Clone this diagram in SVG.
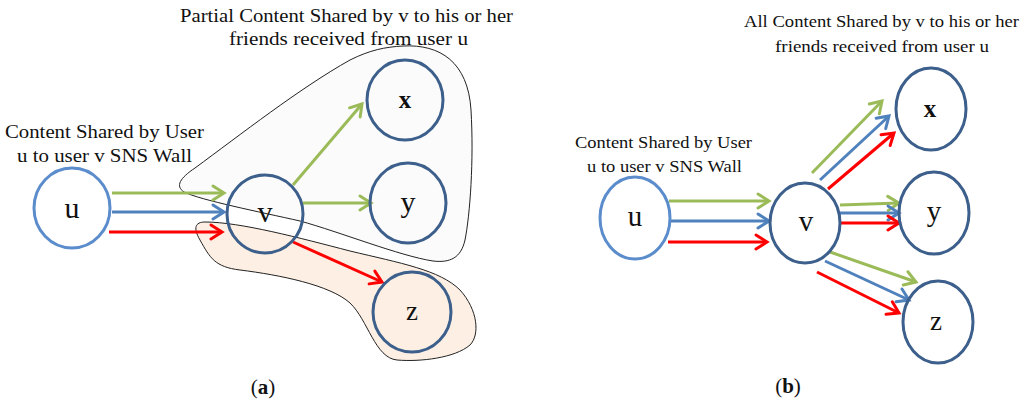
<svg xmlns="http://www.w3.org/2000/svg" width="1024" height="405" viewBox="0 0 1024 405">
<style>
.lbl{font-family:"Liberation Serif","Times New Roman",serif;fill:#111}
.node{fill:none;stroke:#3c5f8c;stroke-width:3}
.nodeu{fill:none;stroke:#5b8ccc;stroke-width:3}
.nt{font-family:"Liberation Serif","Times New Roman",serif;fill:#111;text-anchor:middle}
.g{stroke:#9bbb59;stroke-width:3;fill:none}
.b{stroke:#4f81bd;stroke-width:3;fill:none}
.r{stroke:#ff0000;stroke-width:3;fill:none}
.blob{stroke:#222;stroke-width:1}
</style>
<defs>
<marker id="ag" markerUnits="userSpaceOnUse" markerWidth="18" markerHeight="18" viewBox="-14 -9 18 18" refX="0" refY="0" orient="auto"><path d="M-11,-7 L0,0 L-11,7" fill="none" stroke="#9bbb59" stroke-width="3" stroke-linecap="round" stroke-linejoin="miter"/></marker>
<marker id="ab" markerUnits="userSpaceOnUse" markerWidth="18" markerHeight="18" viewBox="-14 -9 18 18" refX="0" refY="0" orient="auto"><path d="M-11,-7 L0,0 L-11,7" fill="none" stroke="#4f81bd" stroke-width="3" stroke-linecap="round" stroke-linejoin="miter"/></marker>
<marker id="ar" markerUnits="userSpaceOnUse" markerWidth="18" markerHeight="18" viewBox="-14 -9 18 18" refX="0" refY="0" orient="auto"><path d="M-11,-7 L0,0 L-11,7" fill="none" stroke="#ff0000" stroke-width="3" stroke-linecap="round" stroke-linejoin="miter"/></marker>
</defs>
<rect width="1024" height="405" fill="#ffffff"/>

<!-- Panel (a) groups -->
<g id="group-partial">
<path class="blob" fill="#fbfbfb" d="M403,46 C440,44 468,62 471,110 C474,160 470,215 465,240 C461,258 450,263 433,261 C400,256 340,232 300,221 C260,212 200,200 184,192 C175,186 180,178 195,168 C240,135 300,88 350,60 C370,50 385,47 403,46 Z"/>
</g>
<g id="group-z">
<path class="blob" fill="#fdefe3" d="M205,222 C240,222 300,238 350,251 C400,263 440,270 460,290 C478,310 480,335 470,345 C455,358 420,362 397,360 C375,358 368,320 350,303 C330,285 280,275 240,270 C215,267 210,258 200,240 C193,228 195,222 205,222 Z"/>
</g>

<text class="lbl" font-size="18" x="180" y="22" textLength="333" lengthAdjust="spacingAndGlyphs">Partial Content Shared by v to his or her</text>
<text class="lbl" font-size="18" x="229" y="45" textLength="239" lengthAdjust="spacingAndGlyphs">friends received from user u</text>
<text class="lbl" font-size="18" x="5" y="138" textLength="199" lengthAdjust="spacingAndGlyphs">Content Shared by User</text>
<text class="lbl" font-size="18" x="17" y="162" textLength="175" lengthAdjust="spacingAndGlyphs">u to user v SNS Wall</text>

<g id="connectors-a">
<line class="g" x1="112" y1="193" x2="224" y2="193" marker-end="url(#ag)"/>
<line class="b" x1="112" y1="212" x2="224" y2="212" marker-end="url(#ab)"/>
<line class="r" x1="109" y1="232" x2="222" y2="232" marker-end="url(#ar)"/>
<line class="g" x1="293" y1="185" x2="362" y2="104" marker-end="url(#ag)"/>
<line class="g" x1="303" y1="203" x2="371" y2="203" marker-end="url(#ag)"/>
<line class="r" x1="293" y1="242" x2="382" y2="282" marker-end="url(#ar)"/>
</g>

<g id="a-u"><ellipse class="nodeu" cx="72" cy="208" rx="38" ry="40"/><text class="nt" font-size="30" x="72" y="218">u</text></g>
<g id="a-v"><ellipse class="node" cx="265" cy="214" rx="38" ry="39"/><text class="nt" font-size="30" x="265" y="222">v</text></g>
<g id="a-x"><ellipse class="node" cx="405" cy="100" rx="38" ry="40"/><text class="nt" font-size="25" font-weight="bold" x="405" y="108">x</text></g>
<g id="a-y"><ellipse class="node" cx="408" cy="203" rx="38" ry="40"/><text class="nt" font-size="30" x="408" y="212">y</text></g>
<g id="a-z"><ellipse class="node" cx="412" cy="312" rx="39" ry="40"/><text class="nt" font-size="27" x="412" y="320">z</text></g>

<text class="nt" font-size="21" x="263" y="394">(<tspan font-weight="bold">a</tspan>)</text>

<!-- Panel (b) -->
<text class="lbl" font-size="17" x="744" y="27" textLength="275" lengthAdjust="spacingAndGlyphs">All Content Shared by v to his or her</text>
<text class="lbl" font-size="17" x="775" y="52" textLength="214" lengthAdjust="spacingAndGlyphs">friends received from user u</text>
<text class="lbl" font-size="17" x="575" y="148" textLength="177" lengthAdjust="spacingAndGlyphs">Content Shared by User</text>
<text class="lbl" font-size="17" x="587" y="172" textLength="155" lengthAdjust="spacingAndGlyphs">u to user v SNS Wall</text>

<g id="connectors-b">
<line class="g" x1="669" y1="201" x2="769" y2="201" marker-end="url(#ag)"/>
<line class="b" x1="669" y1="221" x2="769" y2="221" marker-end="url(#ab)"/>
<line class="r" x1="668" y1="242" x2="767" y2="242" marker-end="url(#ar)"/>
<line class="g" x1="812" y1="173" x2="882" y2="101" marker-end="url(#ag)"/>
<line class="b" x1="820" y1="180" x2="889" y2="116" marker-end="url(#ab)"/>
<line class="r" x1="828" y1="189" x2="894" y2="133" marker-end="url(#ar)"/>
<line class="g" x1="840" y1="205" x2="899" y2="203" marker-end="url(#ag)"/>
<line class="b" x1="840" y1="213" x2="899" y2="213" marker-end="url(#ab)"/>
<line class="r" x1="840" y1="223" x2="899" y2="223" marker-end="url(#ar)"/>
<line class="g" x1="830" y1="252" x2="916" y2="282" marker-end="url(#ag)"/>
<line class="b" x1="825" y1="261" x2="909" y2="300" marker-end="url(#ab)"/>
<line class="r" x1="817" y1="272" x2="899" y2="313" marker-end="url(#ar)"/>
</g>

<g id="b-u"><ellipse class="nodeu" cx="635" cy="218" rx="35" ry="41"/><text class="nt" font-size="29" x="635" y="226">u</text></g>
<g id="b-v"><ellipse class="node" cx="805" cy="223" rx="35" ry="40"/><text class="nt" font-size="29" x="806" y="231">v</text></g>
<g id="b-x"><ellipse class="node" cx="931" cy="109" rx="35" ry="41"/><text class="nt" font-size="25" font-weight="bold" x="930" y="117">x</text></g>
<g id="b-y"><ellipse class="node" cx="934" cy="213" rx="35" ry="41"/><text class="nt" font-size="29" x="934" y="221">y</text></g>
<g id="b-z"><ellipse class="node" cx="938" cy="322" rx="35" ry="41"/><text class="nt" font-size="27" x="936" y="330">z</text></g>

<text class="nt" font-size="21" x="788" y="393">(<tspan font-weight="bold">b</tspan>)</text>
</svg>
